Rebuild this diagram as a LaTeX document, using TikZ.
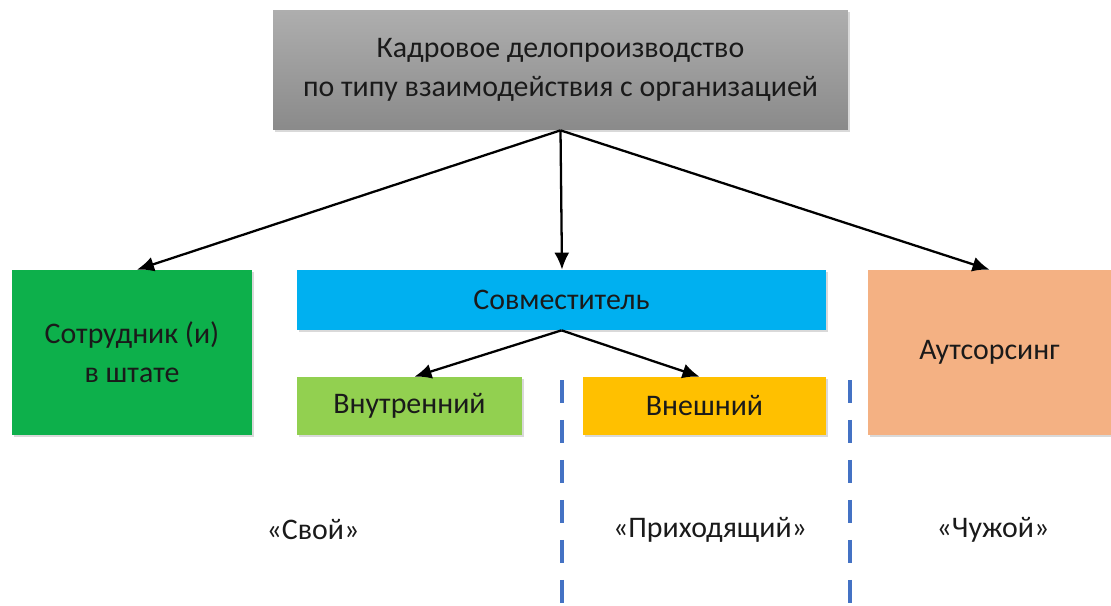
\documentclass[tikz,border=0pt]{standalone}
\usepackage{fontspec}
\setmainfont{Carlito}
\usetikzlibrary{arrows.meta, positioning, shadows}
\definecolor{HeadLight}{HTML}{AEAEAE}
\definecolor{HeadDark}{HTML}{8A8A8A}
\definecolor{StaffGreen}{HTML}{0DB04B}
\definecolor{JointBlue}{HTML}{00B0F0}
\definecolor{InnerGreen}{HTML}{92D050}
\definecolor{OuterYellow}{HTML}{FFC000}
\definecolor{OutsPeach}{HTML}{F4B183}
\definecolor{SplitBlue}{HTML}{4472C4}
\definecolor{TextDark}{HTML}{1A1A1A}

\begin{document}
\begin{tikzpicture}[x=0.02cm, y=-0.02cm, font=\fontsize{17}{22}\selectfont,
    box/.style={draw=none, align=center, text=TextDark,
      drop shadow={shadow xshift=1.2pt, shadow yshift=-1.2pt, opacity=0.3}},
    link/.style={-{Latex[length=3.4mm, width=3mm]}, line width=1.3pt, black},
    split/.style={SplitBlue, line width=2.6pt, dash pattern=on 0.46cm off 0.34cm}]
    \useasboundingbox (0,0) rectangle (1111,605);

    \node[box, top color=HeadLight, bottom color=HeadDark, minimum width=11.5cm, minimum height=2.4cm] (head) at (560.5,70) {Кадровое делопроизводство\\по типу взаимодействия с организацией};
    \node[box, fill=StaffGreen, minimum width=4.8cm, minimum height=3.3cm] (staff) at (132,352.5) {Сотрудник (и)\\в штате};
    \node[box, fill=JointBlue, minimum width=10.58cm, minimum height=1.2cm] (joint) at (561.5,300) {Совместитель};
    \node[box, fill=InnerGreen, minimum width=4.5cm, minimum height=1.16cm] (inner) at (409.5,406) {Внутренний};
    \node[box, fill=OuterYellow, minimum width=4.86cm, minimum height=1.16cm] (outer) at (704.5,406) {Внешний};
    \node[box, fill=OutsPeach, minimum width=4.86cm, minimum height=3.3cm] (outs) at (989.5,352.5) {Аутсорсинг};

    \node[text=TextDark] (own) at (313,530) {«Свой»};
    \node[text=TextDark] (visit) at (710,530) {«Приходящий»};
    \node[text=TextDark] (alien) at (993,530) {«Чужой»};

    % separators
    \draw[split] (562,380) -- (562,605);
    \draw[split] (850,380) -- (850,605);

    \draw[link] (head.south) -- ([xshift=0.1cm]staff.north);
    \draw[link] (head.south) -- ([xshift=0.01cm]joint.north);
    \draw[link] (head.south) -- (outs.north);
    \draw[link] (joint.south) -- ([xshift=0.1cm]inner.north);
    \draw[link] (joint.south) -- ([xshift=-0.1cm]outer.north);
  \end{tikzpicture}
\end{document}
